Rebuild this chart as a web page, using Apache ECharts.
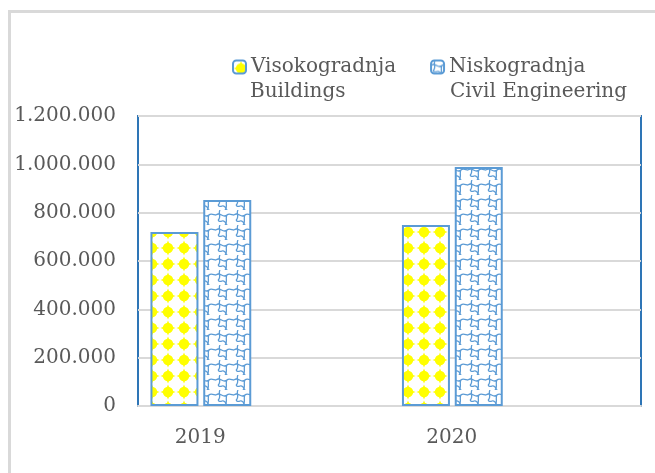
<!DOCTYPE html>
<html>
<head>
<meta charset="utf-8">
<script src="https://cdn.jsdelivr.net/npm/echarts@6/dist/echarts.min.js"></script>
<style>
  html, body { margin: 0; padding: 0; background: #fff; }
  #main { width: 655px; height: 473px; }
</style>
</head>
<body>
<div id="main"></div>
<script>
  // data
  var years = ['2019', '2020'];
  var seriesNames = ['Visokogradnja', 'Niskogradnja'];
  var seriesNamesEn = ['Buildings', 'Civil Engineering'];
  var buildings = [720000, 749000];        // Visokogradnja
  var civil = [852000, 989000];            // Niskogradnja
  var yTicks = [0, 200000, 400000, 600000, 800000, 1000000, 1200000];

  // yellow "star" tile
  function yellowTile() {
    var c = document.createElement('canvas');
    c.width = 16; c.height = 16;
    var g = c.getContext('2d');
    g.fillStyle = '#fff';
    g.fillRect(0, 0, 16, 16);
    g.fillStyle = '#ffff00';
    g.beginPath();
    g.arc(8, 8, 5.2, 0, Math.PI * 2);
    g.fill();
    g.beginPath();
    g.moveTo(8, 0.5); g.lineTo(11, 8); g.lineTo(8, 15.5); g.lineTo(5, 8); g.closePath();
    g.fill();
    g.beginPath();
    g.moveTo(0.5, 8); g.lineTo(8, 5); g.lineTo(15.5, 8); g.lineTo(8, 11); g.closePath();
    g.fill();
    return c;
  }

  // blue wavy shingle tile
  function blueTile() {
    var c = document.createElement('canvas');
    c.width = 18; c.height = 15;
    var g = c.getContext('2d');
    g.fillStyle = '#fff';
    g.fillRect(0, 0, 18, 15);
    g.strokeStyle = '#5b9bd5';
    g.lineWidth = 1.3;
    g.beginPath();
    g.moveTo(0, 5);
    g.bezierCurveTo(4, 1, 7, 9, 11, 5);
    g.bezierCurveTo(13, 3, 16, 5, 18, 5);
    g.moveTo(11, 5);
    g.bezierCurveTo(9, 8, 12, 12, 9, 15);
    g.moveTo(4, 0);
    g.bezierCurveTo(2, 3, 5, 6, 3, 9);
    g.bezierCurveTo(1, 11, 4, 12, 6, 11);
    g.bezierCurveTo(8, 10, 10, 13, 11, 15);
    g.stroke();
    return c;
  }

  var myChart = echarts.init(document.getElementById('main'));
  var font = 'DejaVu Serif';
  var txtColor = '#595959';
  var option = {
    animation: false,
    textStyle: { fontFamily: font },
    graphic: [{
      type: 'rect',
      shape: { x: 9.5, y: 11.5, width: 700, height: 500 },
      style: { fill: 'none', stroke: '#d9d9d9', lineWidth: 3 },
      silent: true
    }, {
      type: 'text',
      left: 250, top: 82,
      style: { text: seriesNamesEn[0], font: '20px "DejaVu Serif"', fill: txtColor },
      silent: true
    }, {
      type: 'text',
      left: 450, top: 82,
      style: { text: seriesNamesEn[1], font: '20px "DejaVu Serif"', fill: txtColor },
      silent: true
    }],
    legend: {
      data: seriesNames,
      left: 227,
      top: 52,
      itemWidth: 13,
      itemHeight: 13,
      itemGap: 34,
      textStyle: {
        fontFamily: font,
        fontSize: 20,
        color: txtColor
      }
    },
    grid: {
      left: 138,
      right: 14,
      top: 116,
      bottom: 67,
      show: true,
      borderColor: '#2e75b6',
      borderWidth: 2
    },
    xAxis: {
      type: 'category',
      data: years,
      axisTick: { show: false },
      axisLine: { lineStyle: { color: '#d9d9d9', width: 2 } },
      axisLabel: {
        fontFamily: font,
        fontSize: 20,
        color: txtColor,
        margin: 22,
        padding: [0, 127, 0, 0]
      }
    },
    yAxis: {
      type: 'value',
      min: yTicks[0],
      max: yTicks[yTicks.length - 1],
      interval: yTicks[1] - yTicks[0],
      axisLine: { show: false },
      axisTick: { show: false },
      splitLine: { lineStyle: { color: '#d9d9d9', width: 2 } },
      axisLabel: {
        fontFamily: font,
        fontSize: 20,
        color: txtColor,
        margin: 22,
        formatter: function (v) {
          return String(v).replace(/\B(?=(\d{3})+(?!\d))/g, '.');
        }
      }
    },
    series: [
      {
        name: seriesNames[0],
        type: 'bar',
        barWidth: 48,
        barGap: '10%',
        itemStyle: {
          color: { image: yellowTile(), repeat: 'repeat' },
          borderColor: '#5b9bd5',
          borderWidth: 2
        },
        data: buildings
      },
      {
        name: seriesNames[1],
        type: 'bar',
        barWidth: 48,
        itemStyle: {
          color: { image: blueTile(), repeat: 'repeat' },
          borderColor: '#5b9bd5',
          borderWidth: 2
        },
        data: civil
      },
      {
        // empty spacer, keeps bars to the left like the original
        name: 'spacer',
        type: 'bar',
        barWidth: 121,
        silent: true,
        itemStyle: { color: 'transparent' },
        data: [0, 0]
      }
    ]
  };
  myChart.setOption(option);
</script>
</body>
</html>
